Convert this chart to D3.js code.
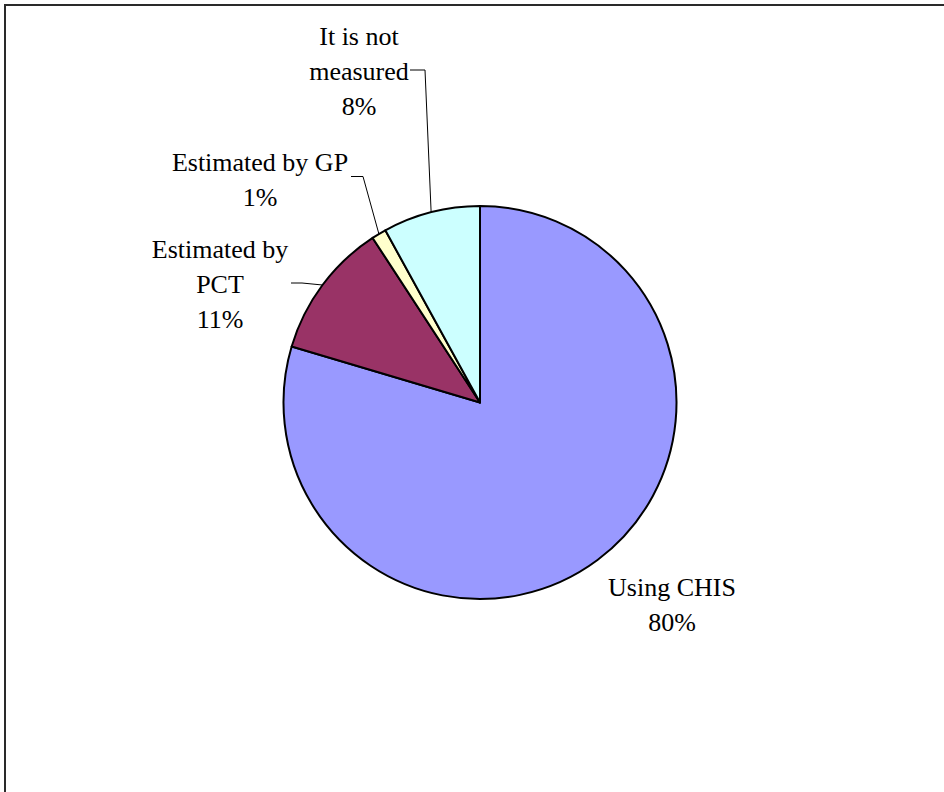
<!DOCTYPE html>
<html>
<head>
<meta charset="utf-8">
<script src="https://cdn.jsdelivr.net/npm/d3@7"></script>
<style>
  html, body { margin: 0; padding: 0; background: #fff; }
  svg { display: block; }
  text { font-family: "Liberation Serif", "Times New Roman", serif; font-size: 26px; fill: #000; }
</style>
</head>
<body>
<script>
// How the CHIS figures are obtained (share of responses)
const categories = ["Using CHIS", "Estimated by PCT", "Estimated by GP", "It is not measured"];
const values = [79.6, 11.2, 1.2, 8.0];
const colors = ["#9999FF", "#993366", "#FFFFCC", "#CCFFFF"];
// Label text lines (the percentage line is appended from the data)
const labelLines = [["Using CHIS"], ["Estimated by", "PCT"], ["Estimated by GP"], ["It is not", "measured"]];

const W = 944, H = 792;
const cx = 480, cy = 402.5, R = 196.5;

const svg = d3.select("body").append("svg").attr("width", W).attr("height", H);

// Chart area frame
svg.append("rect")
  .attr("x", 5).attr("y", 5).attr("width", 1200).attr("height", 1200)
  .attr("fill", "none").attr("stroke", "#2a2a2a").attr("stroke-width", 2);

const total = d3.sum(values);
const data = categories.map((c, i) => ({ name: c, value: values[i], color: colors[i], lines: labelLines[i] }));

const pie = d3.pie().value(d => d.value).sort(null);
const arcs = pie(data);
const arc = d3.arc().innerRadius(0).outerRadius(R);

const g = svg.append("g").attr("transform", `translate(${cx},${cy})`);
g.selectAll("path.slice")
  .data(arcs)
  .join("path")
  .attr("class", "slice")
  .attr("d", arc)
  .attr("fill", d => d.data.color)
  .attr("stroke", "#000")
  .attr("stroke-width", 2)
  .attr("stroke-linejoin", "round");

// Label placement: text centre, first baseline, and leader elbow/end (null = no leader)
const labelLayout = [
  { x: 672, y: 596, leader: null },
  { x: 220, y: 258, leader: [[302, 283], [291, 283]] },
  { x: 260, y: 170.5, leader: [[363, 176.5], [351, 176.5]] },
  { x: 359, y: 45, leader: [[425, 70], [410, 70]] }
];
const lineGap = 35;

arcs.forEach((a, i) => {
  const lay = labelLayout[i];
  const mid = (a.startAngle + a.endAngle) / 2;
  const ex = cx + R * Math.sin(mid), ey = cy - R * Math.cos(mid);
  if (lay.leader) {
    const pts = [[ex, ey], ...lay.leader];
    svg.append("path")
      .attr("d", d3.line()(pts))
      .attr("fill", "none")
      .attr("stroke", "#000")
      .attr("stroke-width", 1);
  }
  const pct = Math.round(a.data.value / total * 100) + "%";
  const lines = [...a.data.lines, pct];
  const t = svg.append("text").attr("text-anchor", "middle");
  lines.forEach((ln, k) => {
    t.append("tspan").attr("x", lay.x).attr("y", lay.y + k * lineGap).text(ln);
  });
});
</script>
</body>
</html>
